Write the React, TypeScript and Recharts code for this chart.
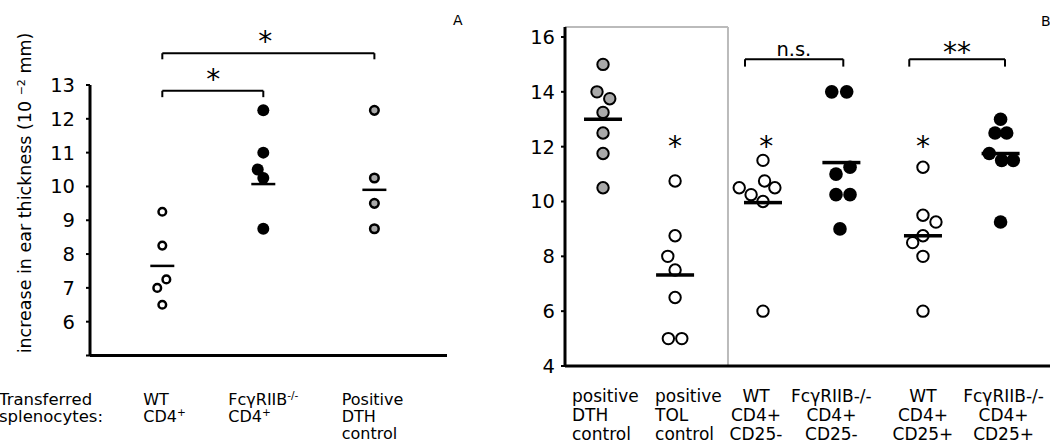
import React from "react";
import { ScatterChart, Scatter, XAxis, YAxis, ReferenceLine, ReferenceDot } from "recharts";

const FONT = "'DejaVu Sans', Verdana, sans-serif";
const GRAY = "#a9a9a9";

// ---- panel A ----
const labelsA = ["WT|CD4^+", "FcγRIIB^-/-|CD4^+", "Positive|DTH|control"];
const posA = [1, 2, 3.1];
const ticksA = [5, 6, 7, 8, 9, 10, 11, 12, 13];
const wtA = [9.25, 8.25, 7.25, 7.0, 6.5];
const wtAShift = [0, 0, 0.04, -0.05, 0];
const koA = [12.25, 11.0, 10.5, 10.25, 8.75];
const koAShift = [0, 0, -0.055, 0, 0];
const dthA = [12.25, 10.25, 9.5, 8.75];
const meansA = [7.65, 10.07, 9.9];

// ---- panel B ----
const labelsB = [
  "positive|DTH|control",
  "positive|TOL|control",
  "WT|CD4+|CD25-",
  "FcγRIIB-/-|CD4+|CD25-",
  "WT|CD4+|CD25+",
  "FcγRIIB-/-|CD4+|CD25+"
];
const posB = [0.48, 1.39, 2.5, 3.49, 4.52, 5.5];
const ticksB = [4, 6, 8, 10, 12, 14, 16];
const dthB = [15, 14, 13.75, 13.25, 12.5, 11.75, 10.5];
const dthBShift = [0, -0.076, 0.085, 0, 0, 0, 0];
const tolB = [10.75, 8.75, 8, 7.5, 6.5, 5, 5];
const tolBShift = [0, 0, -0.092, 0, 0, -0.085, 0.085];
const wtNegB = [11.5, 10.75, 10.5, 10.5, 10.25, 10, 6];
const wtNegBShift = [0, 0.02, -0.3, 0.15, -0.15, 0, 0];
const koNegB = [14, 14, 11.25, 11, 10.25, 10.25, 9];
const koNegBShift = [-0.122, 0.067, 0.109, -0.068, -0.068, 0.109, -0.018];
const wtPosB = [11.25, 9.5, 9.25, 8.75, 8.5, 8, 6];
const wtPosBShift = [0, 0, 0.164, 0, -0.13, 0, 0];
const koPosB = [13, 12.5, 12.5, 11.75, 11.5, 11.5, 9.25];
const koPosBShift = [0, -0.07, 0.077, -0.143, 0.014, 0.16, 0];
const meansB = [13.0, 7.32, 9.96, 11.42, 8.75, 11.75];

const toPoints = (values: number[], pos: number, shift?: number[]) =>
  values.map((y, i) => ({ x: pos + (shift ? shift[i] : 0), y }));

const openDot = (r: number, sw: number) => (p: any) =>
  <circle cx={p.cx} cy={p.cy} r={r} fill="#fff" stroke="#000" strokeWidth={sw} />;
const grayDot = (r: number, sw: number) => (p: any) =>
  <circle cx={p.cx} cy={p.cy} r={r} fill={GRAY} stroke="#000" strokeWidth={sw} />;
const blackDot = (r: number) => (p: any) => <circle cx={p.cx} cy={p.cy} r={r} fill="#000" />;
const meanBar = (w: number, h: number) => (p: any) =>
  <rect x={p.cx - w / 2} y={p.cy - h / 2} width={w} height={h} fill="#000" />;

const star = (text: string, size: number) => (p: any) => (
  <text x={p.cx} y={p.cy + size * 0.55} textAnchor="middle" fontSize={size} fontFamily={FONT} fill="#000">
    {text}
  </text>
);

const bracket = (key: string, x1: number, x2: number, y: number, yEnd: number) => [
  <ReferenceLine key={key + "h"} segment={[{ x: x1, y }, { x: x2, y }]} stroke="#000" strokeWidth={2} ifOverflow="visible" />,
  <ReferenceLine key={key + "l"} segment={[{ x: x1, y }, { x: x1, y: yEnd }]} stroke="#000" strokeWidth={2} ifOverflow="visible" />,
  <ReferenceLine key={key + "r"} segment={[{ x: x2, y }, { x: x2, y: yEnd }]} stroke="#000" strokeWidth={2} ifOverflow="visible" />
];

const withSup = (line: string) => {
  const [base, sup] = line.split("^");
  return (
    <>
      {base}
      {sup && (
        <tspan dy={-6} fontSize={10.5}>
          {sup}
        </tspan>
      )}
    </>
  );
};

const rowsA = [405, 422, 439];
const offsetsA = [-19, -35, -32.7];
const rowsB = [402, 421, 440];
const offsetsB = [-31, -20, -7, -10, 0, 3];
const anchorsB = ["start", "start", "middle", "middle", "middle", "middle"];

const TickA = (props: any) => {
  const i = posA.indexOf(props.payload.value);
  if (i < 0) return null;
  return (
    <g>
      {labelsA[i].split("|").map((ln, k) => (
        <text key={k} x={props.x + offsetsA[i]} y={rowsA[k]} fontSize={16} fontFamily={FONT} fill="#000">
          {withSup(ln)}
        </text>
      ))}
    </g>
  );
};

const TickB = (props: any) => {
  const i = posB.indexOf(props.payload.value);
  if (i < 0) return null;
  return (
    <g>
      {labelsB[i].split("|").map((ln, k) => (
        <text
          key={k}
          x={props.x + offsetsB[i]}
          y={rowsB[k]}
          fontSize={17}
          fontFamily={FONT}
          fill="#000"
          textAnchor={anchorsB[i] as any}
        >
          {ln}
        </text>
      ))}
    </g>
  );
};

const YTitle = () => (
  <text x={31} y={193} transform="rotate(-90 31 193)" textAnchor="middle" fontSize={17.5} fontFamily={FONT} fill="#000">
    increase in ear thickness (10{" "}
    <tspan dy={-6} fontSize={11}>
      −2
    </tspan>
    <tspan dy={6}> mm)</tspan>
  </text>
);

const axisLine = { stroke: "#000", strokeWidth: 3 };
const tickLine = { stroke: "#000", strokeWidth: 2 };
const tickFont = { fill: "#000", fontSize: 19.5, fontFamily: FONT };

const PanelA = () => (
  <ScatterChart width={470} height={445} margin={{ top: 85, right: 23, bottom: 88.5, left: 30 }}>
    <XAxis
      type="number"
      dataKey="x"
      domain={[0.284, 3.819]}
      ticks={posA}
      interval={0}
      height={1}
      axisLine={axisLine}
      tickLine={false}
      tick={<TickA />}
    />
    <YAxis
      type="number"
      dataKey="y"
      domain={[5, 13]}
      ticks={ticksA}
      interval={0}
      width={60}
      axisLine={axisLine}
      tickLine={tickLine}
      tickSize={4}
      tickMargin={11}
      tick={tickFont}
      tickFormatter={(v: number) => (v === 5 ? "" : String(v))}
      label={() => <YTitle />}
    />
    {bracket("top", posA[0], posA[2], 13.94, 13.76)}
    {bracket("low", posA[0], posA[1], 12.83, 12.64)}
    <ReferenceDot x={2.02} y={14.45} r={0} ifOverflow="visible" shape={star("*", 28)} />
    <ReferenceDot x={1.505} y={13.35} r={0} ifOverflow="visible" shape={star("*", 28)} />
    <Scatter data={toPoints(wtA, posA[0], wtAShift)} shape={openDot(3.8, 2.5)} isAnimationActive={false} />
    <Scatter data={toPoints(koA, posA[1], koAShift)} shape={blackDot(6)} isAnimationActive={false} />
    <Scatter data={toPoints(dthA, posA[2])} shape={grayDot(4.3, 2.5)} isAnimationActive={false} />
    <Scatter data={meansA.map((y, i) => ({ x: posA[i], y }))} shape={meanBar(24, 2.5)} isAnimationActive={false} />
  </ScatterChart>
);

const PanelB = () => (
  <ScatterChart width={570} height={445} margin={{ top: 27, right: 0, bottom: 78, left: 25 }}>
    <XAxis
      type="number"
      dataKey="x"
      domain={[0, 6.124]}
      ticks={posB}
      interval={0}
      height={1}
      axisLine={axisLine}
      tickLine={false}
      tick={<TickB />}
    />
    <YAxis
      type="number"
      dataKey="y"
      domain={[4, 16.365]}
      ticks={ticksB}
      interval={0}
      width={60}
      axisLine={axisLine}
      tickLine={tickLine}
      tickSize={4}
      tickMargin={6}
      tick={tickFont}
    />
    <ReferenceLine segment={[{ x: 2.058, y: 4 }, { x: 2.058, y: 16.365 }]} stroke="#bbb" strokeWidth={2} ifOverflow="visible" />
    <ReferenceLine segment={[{ x: 0, y: 16.365 }, { x: 2.058, y: 16.365 }]} stroke="#bbb" strokeWidth={2} ifOverflow="visible" />
    {bracket("ns", 2.273, 3.514, 15.19, 14.92)}
    {bracket("ss", 4.347, 5.556, 15.19, 14.92)}
    <ReferenceDot x={2.89} y={15.19} r={0} ifOverflow="visible" shape={(p: any) => (
      <text x={p.cx} y={p.cy - 3.5} textAnchor="middle" fontSize={19.5} fontFamily={FONT} fill="#000">n.s.</text>
    )} />
    <ReferenceDot x={4.95} y={15.65} r={0} ifOverflow="visible" shape={star("**", 28)} />
    <ReferenceDot x={posB[1]} y={12.22} r={0} ifOverflow="visible" shape={star("*", 28)} />
    <ReferenceDot x={2.54} y={12.22} r={0} ifOverflow="visible" shape={star("*", 28)} />
    <ReferenceDot x={posB[4]} y={12.22} r={0} ifOverflow="visible" shape={star("*", 28)} />
    <Scatter data={toPoints(dthB, posB[0], dthBShift)} shape={grayDot(5.7, 2)} isAnimationActive={false} />
    <Scatter data={toPoints(tolB, posB[1], tolBShift)} shape={openDot(5.7, 2)} isAnimationActive={false} />
    <Scatter data={toPoints(wtNegB, posB[2], wtNegBShift)} shape={openDot(5.7, 2)} isAnimationActive={false} />
    <Scatter data={toPoints(koNegB, posB[3], koNegBShift)} shape={blackDot(6.8)} isAnimationActive={false} />
    <Scatter data={toPoints(wtPosB, posB[4], wtPosBShift)} shape={openDot(5.7, 2)} isAnimationActive={false} />
    <Scatter data={toPoints(koPosB, posB[5], koPosBShift)} shape={blackDot(6.8)} isAnimationActive={false} />
    <Scatter data={meansB.map((y, i) => ({ x: posB[i], y }))} shape={meanBar(38, 3.5)} isAnimationActive={false} />
  </ScatterChart>
);

export default function App() {
  return (
    <div style={{ position: "absolute", left: 0, top: 0, width: 1050, height: 445, background: "#fff", overflow: "hidden" }}>
      <div style={{ position: "absolute", left: 0, top: 0 }}>
        <PanelA />
      </div>
      <div style={{ position: "absolute", left: 480, top: 0 }}>
        <PanelB />
      </div>
      <svg width={1050} height={445} style={{ position: "absolute", left: 0, top: 0, pointerEvents: "none" }}>
        <text x={453} y={25} fontSize={14} fontFamily={FONT} fill="#000">A</text>
        <text x={1041} y={26} fontSize={14} fontFamily={FONT} fill="#000">B</text>
        <text x={-1} y={rowsA[0]} fontSize={16.5} fontFamily={FONT} fill="#000">Transferred</text>
        <text x={-1} y={rowsA[1]} fontSize={16.5} fontFamily={FONT} fill="#000">splenocytes:</text>
      </svg>
    </div>
  );
}
